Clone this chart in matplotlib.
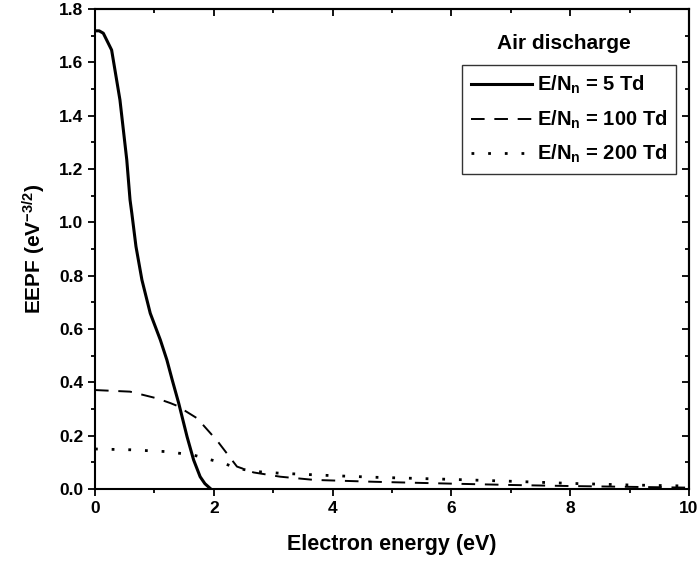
import matplotlib
matplotlib.use('Agg')
import matplotlib.pyplot as plt
from matplotlib.ticker import MultipleLocator

plt.rcParams['font.family'] = ['Liberation Sans', 'DejaVu Sans']
plt.rcParams['font.weight'] = 'bold'
plt.rcParams['mathtext.default'] = 'regular'

# E/N = 5 Td
x5 = [0.0, 0.07, 0.14, 0.28, 0.42, 0.535, 0.59, 0.62, 0.69, 0.79, 0.93, 1.10, 1.21, 1.30,
      1.41, 1.55, 1.66, 1.77, 1.85, 1.91, 1.95]
y5 = [1.718, 1.718, 1.709, 1.646, 1.459, 1.234, 1.084, 1.034, 0.909, 0.784, 0.659, 0.559,
      0.484, 0.409, 0.321, 0.196, 0.109, 0.046, 0.020, 0.008, 0.0]

# E/N = 100 Td
x100 = [0.0, 0.59, 1.04, 1.27, 1.38, 1.72, 2.06, 2.39, 2.67, 3.12, 3.69, 4.7, 6.0, 7.0,
        8.0, 9.0, 10.0]
y100 = [0.371, 0.365, 0.34, 0.322, 0.312, 0.265, 0.18, 0.084, 0.062, 0.046, 0.034,
        0.027, 0.02, 0.015, 0.011, 0.008, 0.005]

# E/N = 200 Td
x200 = [0.0, 0.6, 1.21, 1.66, 2.17, 2.39, 2.67, 3.12, 4.0, 4.7, 6.0, 7.0, 8.0, 9.0, 10.0]
y200 = [0.15, 0.147, 0.14, 0.127, 0.096, 0.078, 0.066, 0.059, 0.05, 0.044, 0.036,
        0.029, 0.021, 0.015, 0.011]

labels = [r'E/N$_{n}$ = 5 Td', r'E/N$_{n}$ = 100 Td', r'E/N$_{n}$ = 200 Td']

fig = plt.figure(figsize=(6.99, 5.67), dpi=100)
ax = fig.add_axes([0.1359, 0.1376, 0.8498, 0.8466])

ax.plot(x5, y5, color='black', lw=2.2, ls='-', label=labels[0])
ax.plot(x100, y100, color='black', lw=1.4, ls=(0, (7, 5)), label=labels[1])
ax.plot(x200, y200, color='black', lw=2.0, ls=(0, (1, 5)), label=labels[2])

ax.set_xlim(0, 10)
ax.set_ylim(0, 1.8)
ax.xaxis.set_major_locator(MultipleLocator(2))
ax.xaxis.set_minor_locator(MultipleLocator(1))
ax.yaxis.set_minor_locator(MultipleLocator(0.1))
ax.set_yticks([0, 0.2, 0.4, 0.6, 0.8, 1.0, 1.2, 1.4, 1.6, 1.8])
ax.set_yticklabels(['0.0', '0.2', '0.4', '0.6', '0.8', '1.0', '1.2', '1.4', '1.6', '1.8'])

for s in ax.spines.values():
    s.set_linewidth(1.5)
ax.tick_params(which='both', direction='out', width=1.3, labelsize=12.5)
ax.tick_params(which='major', length=5)
ax.tick_params(which='minor', length=3)

# mirrored ticks pointing inwards on top and right
ax.tick_params(which='both', top=False, right=False)
sec_x = ax.secondary_xaxis('top')
sec_x.xaxis.set_major_locator(MultipleLocator(2))
sec_x.xaxis.set_minor_locator(MultipleLocator(1))
sec_x.tick_params(which='both', direction='in', width=1.3, labeltop=False)
sec_x.tick_params(which='major', length=5)
sec_x.tick_params(which='minor', length=3)
sec_y = ax.secondary_yaxis('right')
sec_y.yaxis.set_major_locator(MultipleLocator(0.2))
sec_y.yaxis.set_minor_locator(MultipleLocator(0.1))
sec_y.tick_params(which='both', direction='in', width=1.3, labelright=False)
sec_y.tick_params(which='major', length=5)
sec_y.tick_params(which='minor', length=3)
for sa in (sec_x, sec_y):
    for s in sa.spines.values():
        s.set_linewidth(1.5)

ax.set_xlabel('Electron energy (eV)', fontsize=15.5, fontweight='bold', labelpad=13)
ax.set_ylabel(r'EEPF (eV$^{-3/2}$)', fontsize=15, fontweight='bold', labelpad=8)

ax.text(0.79, 0.928, 'Air discharge', transform=ax.transAxes, ha='center', va='center',
        fontsize=15, fontweight='bold')
leg = ax.legend(loc='upper right', bbox_to_anchor=(0.978, 0.883), fontsize=14.5,
                frameon=True, fancybox=False, edgecolor='black', handlelength=3.0,
                handletextpad=0.25, borderpad=0.45, labelspacing=0.6, borderaxespad=0)
leg.get_frame().set_linewidth(1.0)

fig.savefig('out.png', dpi=100)
